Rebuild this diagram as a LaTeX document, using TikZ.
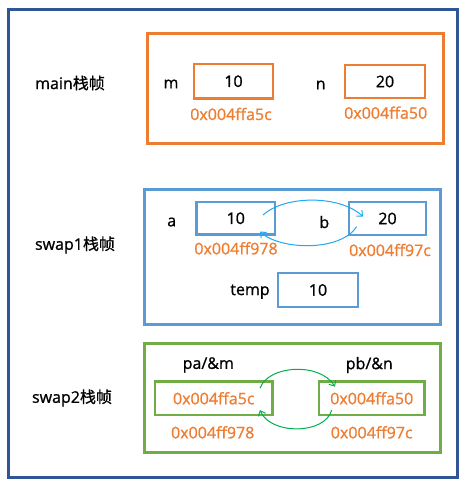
\documentclass[tikz,border=0pt]{standalone}
\usepackage{fontspec}
\setmainfont{Open Sans}[FakeBold=1]
\newfontfamily\cjk{Noto Sans CJK SC}[FakeBold=0.8]
\usetikzlibrary{arrows.meta}
\definecolor{outerblue}{HTML}{2F5597}
\definecolor{orng}{HTML}{ED7D31}
\definecolor{lblue}{HTML}{5B9BD5}
\definecolor{grn}{HTML}{70AD47}
\definecolor{arrblue}{HTML}{1EAAF0}
\definecolor{arrgreen}{HTML}{00B050}
\tikzset{
  txt/.style={font=\fontsize{16}{19}\selectfont, inner sep=0pt},
  hex/.style={txt, text=orng},
  frame/.style={draw, line width=3pt, inner sep=0pt},
  cell/.style={draw, line width=2.8pt, inner sep=0pt, font=\fontsize{16}{19}\selectfont},
  swaparrow/.style={line width=1pt, -{Straight Barb[length=4.5pt,width=8pt]}},
}
\begin{document}
\begin{tikzpicture}[x=1pt,y=-1pt]
\useasboundingbox (0,0) rectangle (466,484);
% outer frame
\node[frame, draw=outerblue, minimum width=449pt, minimum height=467.5pt] (outer) at (233,243.25) {};
% main
\node[frame, draw=orng, minimum width=296pt, minimum height=109pt] (main) at (295,88.5) {};
\node[txt] (mainlbl) at (70,83) {main{\cjk 栈帧}};
\node[cell, draw=orng, minimum width=79pt, minimum height=34.5pt] (m) at (233.5,81.25) {10};
\node[cell, draw=orng, minimum width=80pt, minimum height=33pt] (n) at (385,81.5) {20};
\node[txt] (mlbl) at (171,84) {m};
\node[txt] (nlbl) at (320.7,85) {n};
\node[hex] (madr) at (231,114) {0x004ffa5c};
\node[hex] (nadr) at (385.7,112.7) {0x004ffa50};
% swap1
\node[frame, draw=lblue, minimum width=296pt, minimum height=135pt] (swap1) at (292,256.5) {};
\node[txt] (s1lbl) at (75,245) {swap1{\cjk 栈帧}};
\node[cell, draw=lblue, minimum width=78.5pt, minimum height=32.5pt] (a) at (235.75,218.25) {10};
\node[cell, draw=lblue, minimum width=77pt, minimum height=33pt] (b) at (387.5,218.5) {20};
\node[cell, draw=lblue, minimum width=80pt, minimum height=34pt] (temp) at (318,290) {10};
\node[txt] (albl) at (171.7,222) {a};
\node[txt] (blbl) at (324.3,222) {b};
\node[txt] (templbl) at (250,291.7) {temp};
\node[hex] (aadr) at (236,248.3) {0x004ff978};
\node[hex] (badr) at (390,250) {0x004ff97c};
\coordinate (a1) at (263,215);
\coordinate (b1) at (363,216.7);
\coordinate (b2) at (356.7,226.7);
\coordinate (a2) at (260,231.7);
\draw[swaparrow, draw=arrblue] (a1) .. controls (285,195) and (340,195) .. (b1);
\draw[swaparrow, draw=arrblue] (b2) .. controls (340,252) and (280,250) .. (a2);
% swap2
\node[frame, draw=grn, minimum width=296pt, minimum height=109pt] (swap2) at (292,397.5) {};
\node[txt] (s2lbl) at (72,398) {swap2{\cjk 栈帧}};
\node[cell, draw=grn, text=orng, minimum width=117.5pt, minimum height=33.5pt] (pa) at (213.75,398.25) {0x004ffa5c};
\node[cell, draw=grn, text=orng, minimum width=105.5pt, minimum height=33.5pt] (pb) at (371.75,398.25) {0x004ffa50};
\node[txt] (palbl) at (208.3,365) {pa/\&m};
\node[txt] (pblbl) at (369.3,365) {pb/\&n};
\node[hex] (paadr) at (212.7,432.3) {0x004ff978};
\node[hex] (pbadr) at (371.7,432.3) {0x004ff97c};
\coordinate (pa1) at (260,388.3);
\coordinate (pb1) at (335,386.7);
\coordinate (pb2) at (331.7,410);
\coordinate (pa2) at (260,410);
\draw[swaparrow, draw=arrgreen] (pa1) .. controls (268,365) and (320,362) .. (pb1);
\draw[swaparrow, draw=arrgreen] (pb2) .. controls (325,435) and (270,435) .. (pa2);
\end{tikzpicture}
\end{document}
